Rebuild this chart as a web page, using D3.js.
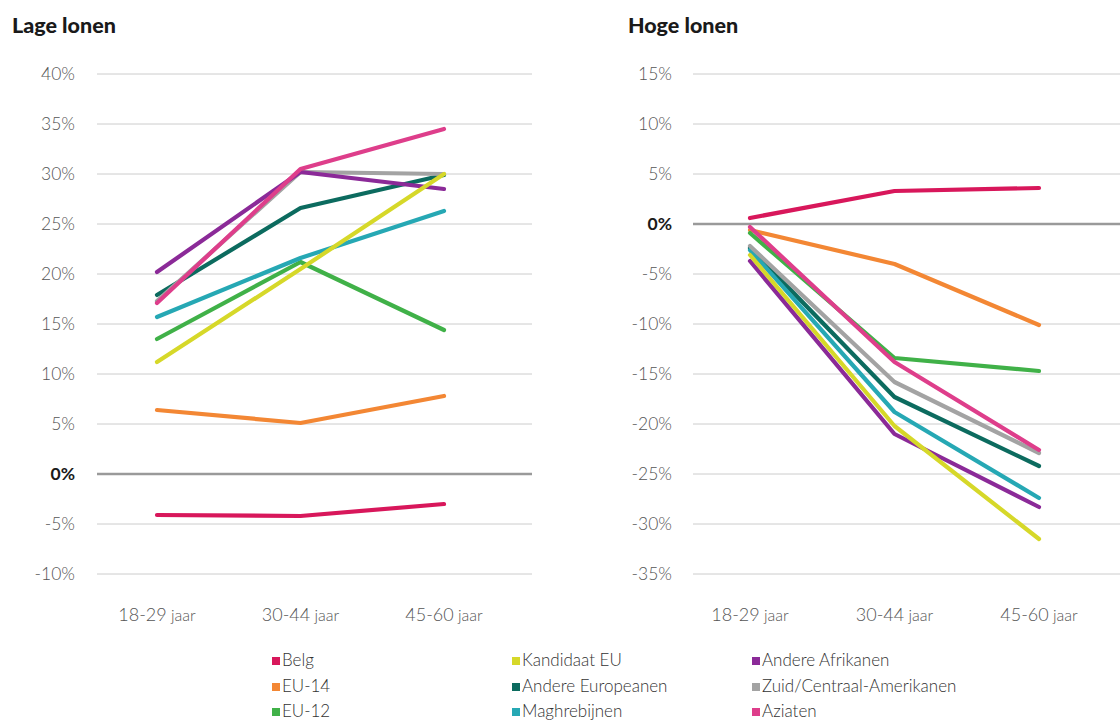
<!DOCTYPE html>
<html><head><meta charset="utf-8">
<script src="https://cdn.jsdelivr.net/npm/d3@7"></script>
<style>
body{margin:0;background:#fff;}
text{font-family:Lato,"Open Sans",sans-serif;}
</style></head>
<body><svg id="c" width="1120" height="722"></svg>
<script>
const ageGroups = ["18-29", "30-44", "45-60"];
const seriesNames = ["Belg","EU-14","EU-12","Kandidaat EU","Andere Europeanen","Maghrebijnen","Andere Afrikanen","Zuid/Centraal-Amerikanen","Aziaten"];
const seriesColors = ["#d8175b","#f38734","#40b148","#d6d829","#0c6b5f","#26a8b4","#8b2a98","#a3a3a3","#de3e8b"];
const drawOrder = ["Belg","EU-14","EU-12","Andere Europeanen","Maghrebijnen","Zuid/Centraal-Amerikanen","Andere Afrikanen","Aziaten","Kandidaat EU"];
// Lage lonen (%)
const lowBelg = [-4.1, -4.2, -3.0];
const lowEU14 = [6.4, 5.1, 7.8];
const lowEU12 = [13.5, 21.2, 14.4];
const lowKandidaat = [11.2, 20.5, 30.0];
const lowAndereEur = [17.9, 26.6, 29.9];
const lowMaghreb = [15.7, 21.6, 26.3];
const lowAfrikanen = [20.2, 30.2, 28.5];
const lowZuidAm = [17.3, 30.2, 30.0];
const lowAziaten = [17.1, 30.5, 34.5];
// Hoge lonen (%)
const highBelg = [0.6, 3.3, 3.6];
const highEU14 = [-0.6, -4.0, -10.1];
const highEU12 = [-0.9, -13.4, -14.7];
const highKandidaat = [-3.1, -20.2, -31.5];
const highAndereEur = [-2.4, -17.3, -24.2];
const highMaghreb = [-2.6, -18.8, -27.4];
const highAfrikanen = [-3.7, -21.0, -28.3];
const highZuidAm = [-2.2, -15.8, -22.9];
const highAziaten = [-0.3, -13.8, -22.6];
const lowTicks = [40,35,30,25,20,15,10,5,0,-5,-10];
const highTicks = [15,10,5,0,-5,-10,-15,-20,-25,-30,-35];

const lowData = [lowBelg,lowEU14,lowEU12,lowKandidaat,lowAndereEur,lowMaghreb,lowAfrikanen,lowZuidAm,lowAziaten];
const highData = [highBelg,highEU14,highEU12,highKandidaat,highAndereEur,highMaghreb,highAfrikanen,highZuidAm,highAziaten];

const svg = d3.select("#c");
const color = d3.scaleOrdinal().domain(seriesNames).range(seriesColors);

function panel(cfg){
  const g = svg.append("g");
  const y = d3.scaleLinear().domain([cfg.ticks[cfg.ticks.length-1], cfg.ticks[0]]).range([cfg.bottom, cfg.top]);
  const x = d3.scalePoint().domain(ageGroups).range(cfg.xr);
  g.append("text").attr("x", cfg.titleX).attr("y", 33).text(cfg.title)
    .attr("font-size", 21.5).attr("font-weight", 900).attr("fill", "#1a1a1a");
  // grid
  g.selectAll("line.grid").data(cfg.ticks).join("line")
    .attr("x1", cfg.gx[0]).attr("x2", cfg.gx[1])
    .attr("y1", d=>y(d)).attr("y2", d=>y(d))
    .attr("stroke", d=> d===0 ? "#9a9a9a" : "#cccccc")
    .attr("stroke-width", d=> d===0 ? 2.5 : 1);
  g.selectAll("text.tick").data(cfg.ticks).join("text")
    .attr("x", cfg.labelX).attr("y", d=>y(d)).attr("dy", "0.36em")
    .attr("text-anchor", "end").attr("font-size", 17.5)
    .attr("font-weight", d=> d===0 ? 700 : 300)
    .attr("fill", d=> d===0 ? "#1a1a1a" : "#555")
    .text(d=> d + "%");
  // x labels
  const xl = g.selectAll("text.xl").data(ageGroups).join("text")
    .attr("x", d=>x(d)).attr("y", 621).attr("text-anchor", "middle")
    .attr("fill", "#555").attr("font-weight", 300);
  xl.append("tspan").attr("font-size", 18).text(d=>d);
  xl.append("tspan").attr("font-size", 16).text(" jaar");
  const line = d3.line().x((d,i)=>x(ageGroups[i])).y(d=>y(d));
  drawOrder.forEach(name=>{
    const vals = cfg.data[seriesNames.indexOf(name)];
    g.append("path").datum(vals).attr("d", line)
      .attr("fill","none").attr("stroke", color(name))
      .attr("stroke-width", 4.2).attr("stroke-linecap","round").attr("stroke-linejoin","round");
  });
}

panel({title:"Lage lonen", titleX:12, ticks:lowTicks, top:74, bottom:574, xr:[157,444], gx:[97,532], labelX:75, data:lowData});
panel({title:"Hoge lonen", titleX:628, ticks:highTicks, top:74, bottom:574, xr:[750,1039], gx:[693,1125], labelX:672, data:highData});

// legend
const cols = [272, 512, 752];
const rowsY = [660, 686, 711];
const lg = svg.append("g").selectAll("g").data(seriesNames).join("g")
  .attr("transform", (d,i)=>`translate(${cols[Math.floor(i/3)]},${rowsY[i%3]})`);
lg.append("rect").attr("x",0).attr("y",-3).attr("width",8).attr("height",8).attr("fill", d=>color(d));
lg.append("text").attr("x",10).attr("y",0).attr("dy","0.36em").attr("font-size",17)
  .attr("font-weight",300).attr("fill","#333").text(d=>d);
</script></body></html>
